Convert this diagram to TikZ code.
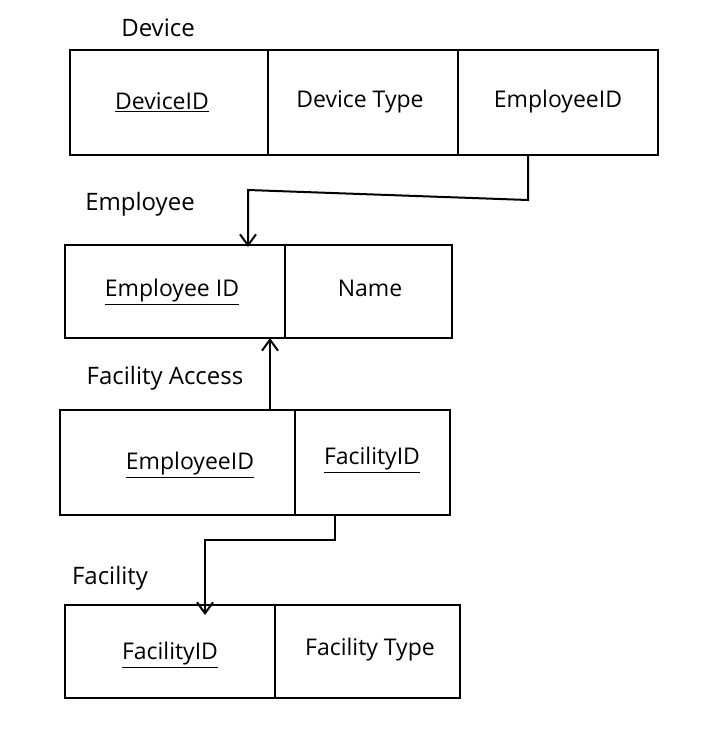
\documentclass[tikz,border=0pt]{standalone}
\usepackage{fontspec}
\setmainfont{Open Sans}
\usetikzlibrary{arrows.meta}
\begin{document}
\begin{tikzpicture}[x=1pt,y=-1pt,
  tbl/.style={draw,line width=2pt},
  fld/.style={font=\fontsize{23}{27}\selectfont,inner sep=2pt},
  ttl/.style={font=\fontsize{24}{28}\selectfont,inner sep=0pt},
  link/.style={line width=2pt,-{Straight Barb[length=11pt,width=16pt]}}]
\useasboundingbox (0,0) rectangle (709,734);
% Device
\node[ttl] (tdev) at (158,28) {Device};
\draw[tbl] (70,50) rectangle (658,155);
\draw[tbl] (268,50) -- (268,155) (458,50) -- (458,155);
\node[fld] (d1) at (162,102) {\underline{DeviceID}};
\node[fld] (d2) at (360,102) {Device Type};
\node[fld] (d3) at (558,102) {EmployeeID};
\coordinate (a1) at (528,155);
% Employee
\node[ttl] (temp) at (140,204) {Employee};
\draw[tbl] (65,245) rectangle (452,338);
\draw[tbl] (285,245) -- (285,338);
\node[fld] (e1) at (172,292) {\underline{Employee ID}};
\node[fld] (e2) at (370,288) {Name};
\coordinate (e1top) at (248,247);
\coordinate (e1bot) at (270,338);
\draw[link] (a1) -- (528,200) -- (248,190) -- (e1top);
% Facility Access
\node[ttl] (tfa) at (165,378) {Facility Access};
\draw[tbl] (60,410) rectangle (450,515);
\draw[tbl] (295,410) -- (295,515);
\node[fld] (f1) at (190,465) {\underline{EmployeeID}};
\node[fld] (f2) at (372,460) {\underline{FacilityID}};
\coordinate (fatop) at (270,410);
\draw[link] (fatop) -- (e1bot);
\coordinate (fabot) at (335,515);
% Facility
\node[ttl] (tf) at (110,578) {Facility};
\draw[tbl] (65,605) rectangle (460,698);
\draw[tbl] (275,605) -- (275,698);
\node[fld] (g1) at (170,655) {\underline{FacilityID}};
\node[fld] (g2) at (370,650) {Facility Type};
\coordinate (ftop) at (205,615);
\draw[link] (fabot) -- (335,540) -- (205,540) -- (ftop);
\end{tikzpicture}
\end{document}
